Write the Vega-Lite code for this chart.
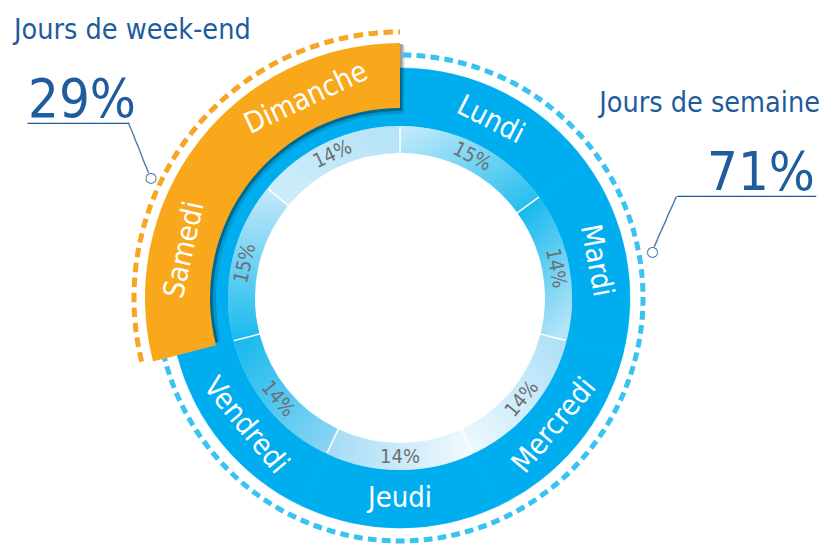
{
  "$schema": "https://vega.github.io/schema/vega-lite/v6.json",
  "width": 800,
  "height": 494,
  "autosize": {"type": "none"},
  "padding": {"left": 0, "top": 51, "right": 25, "bottom": 0},
  "background": "white",
  "config": {"view": {"stroke": null}, "font": "Noto Sans Condensed, DejaVu Sans Condensed, Roboto, sans-serif"},
  "data": {
    "values": [
      {"jour": "Lundi", "groupe": "Jours de semaine", "part": 0.15, "rang": 1},
      {"jour": "Mardi", "groupe": "Jours de semaine", "part": 0.14, "rang": 2},
      {"jour": "Mercredi", "groupe": "Jours de semaine", "part": 0.14, "rang": 3},
      {"jour": "Jeudi", "groupe": "Jours de semaine", "part": 0.14, "rang": 4},
      {"jour": "Vendredi", "groupe": "Jours de semaine", "part": 0.14, "rang": 5},
      {"jour": "Samedi", "groupe": "Jours de week-end", "part": 0.15, "rang": 6},
      {"jour": "Dimanche", "groupe": "Jours de week-end", "part": 0.14, "rang": 7}
    ]
  },
  "layer": [
    {
      "mark": {"type": "arc", "radius": 230, "radius2": 172, "fill": "#00aeef", "stroke": "#00aeef", "strokeWidth": 0.6},
      "encoding": {
        "theta": {"field": "part", "type": "quantitative", "stack": true, "scale": {"domain": [0, 1]}},
        "order": {"field": "rang", "type": "quantitative"},
        "detail": {"field": "jour"}
      }
    },
    {
      "transform": [{"aggregate": [{"op": "sum", "field": "part", "as": "part"}, {"op": "min", "field": "rang", "as": "rang"}], "groupby": ["groupe"]}],
      "mark": {"type": "arc", "radius": 253, "radius2": 184, "thetaOffset": 0.02, "theta2Offset": -0.024, "fill": "#000000"},
      "encoding": {
        "theta": {"field": "part", "type": "quantitative", "stack": true, "scale": {"domain": [0, 1]}},
        "order": {"field": "rang", "type": "quantitative"},
        "detail": {"field": "groupe"},
        "fillOpacity": {"condition": {"test": "datum.groupe === 'Jours de week-end'", "value": 0.13}, "value": 0}
      }
    },
    {
      "transform": [{"aggregate": [{"op": "sum", "field": "part", "as": "part"}, {"op": "min", "field": "rang", "as": "rang"}], "groupby": ["groupe"]}],
      "mark": {"type": "arc", "radius": 254, "radius2": 187, "thetaOffset": 0.011, "theta2Offset": -0.013, "fill": "#000000"},
      "encoding": {
        "theta": {"field": "part", "type": "quantitative", "stack": true, "scale": {"domain": [0, 1]}},
        "order": {"field": "rang", "type": "quantitative"},
        "detail": {"field": "groupe"},
        "fillOpacity": {"condition": {"test": "datum.groupe === 'Jours de week-end'", "value": 0.3}, "value": 0}
      }
    },
    {
      "transform": [{"aggregate": [{"op": "sum", "field": "part", "as": "part"}, {"op": "min", "field": "rang", "as": "rang"}], "groupby": ["groupe"]}],
      "mark": {"type": "arc", "radius": 255, "radius2": 190, "fill": "#f9a81b"},
      "encoding": {
        "theta": {"field": "part", "type": "quantitative", "stack": true, "scale": {"domain": [0, 1]}},
        "order": {"field": "rang", "type": "quantitative"},
        "detail": {"field": "groupe"},
        "fillOpacity": {"condition": {"test": "datum.groupe === 'Jours de week-end'", "value": 1}, "value": 0}
      }
    },
    {
      "mark": {"type": "arc", "radius": 172, "radius2": 145, "padAngle": 0.0068},
      "encoding": {
        "theta": {"field": "part", "type": "quantitative", "stack": true, "scale": {"domain": [0, 1]}},
        "order": {"field": "rang", "type": "quantitative"},
        "detail": {"field": "jour"},
        "fill": {
          "condition": [
            {"test": "datum.jour === 'Lundi'", "value": {"gradient": "linear", "x1": 0, "y1": 0, "x2": 1, "y2": 1, "stops": [{"offset": 0, "color": "#c9ebfa"}, {"offset": 1, "color": "#18bbef"}]}},
            {"test": "datum.jour === 'Mardi'", "value": {"gradient": "linear", "x1": 0.3, "y1": 0, "x2": 0.7, "y2": 1, "stops": [{"offset": 0, "color": "#14b9ee"}, {"offset": 1, "color": "#b6e4f8"}]}},
            {"test": "datum.jour === 'Mercredi'", "value": {"gradient": "linear", "x1": 1, "y1": 0, "x2": 0, "y2": 1, "stops": [{"offset": 0, "color": "#a9def6"}, {"offset": 1, "color": "#f2fafe"}]}},
            {"test": "datum.jour === 'Jeudi'", "value": {"gradient": "linear", "x1": 1, "y1": 0.5, "x2": 0, "y2": 0.5, "stops": [{"offset": 0, "color": "#f2fafe"}, {"offset": 1, "color": "#a4dbf5"}]}},
            {"test": "datum.jour === 'Vendredi'", "value": {"gradient": "linear", "x1": 1, "y1": 1, "x2": 0, "y2": 0, "stops": [{"offset": 0, "color": "#93d6f4"}, {"offset": 1, "color": "#12b9ee"}]}},
            {"test": "datum.jour === 'Samedi'", "value": {"gradient": "linear", "x1": 0.5, "y1": 1, "x2": 0.5, "y2": 0, "stops": [{"offset": 0, "color": "#16baee"}, {"offset": 1, "color": "#c6e9f9"}]}}
          ],
          "value": {"gradient": "linear", "x1": 0, "y1": 1, "x2": 1, "y2": 0, "stops": [{"offset": 0, "color": "#d0edfa"}, {"offset": 1, "color": "#b5e3f7"}]}
        }
      }
    },
    {
      "transform": [{"aggregate": [{"op": "sum", "field": "part", "as": "part"}, {"op": "min", "field": "rang", "as": "rang"}], "groupby": ["groupe"]}],
      "mark": {"type": "arc", "radius": 243, "radius2": 243, "filled": false, "stroke": "#38c3f1", "strokeWidth": 5, "strokeDash": [8, 6], "strokeDashOffset": 4.96, "strokeCap": "butt"},
      "encoding": {
        "theta": {"field": "part", "type": "quantitative", "stack": true, "scale": {"domain": [0, 1]}},
        "order": {"field": "rang", "type": "quantitative"},
        "detail": {"field": "groupe"},
        "strokeOpacity": {"condition": {"test": "datum.groupe === 'Jours de semaine'", "value": 1}, "value": 0}
      }
    },
    {
      "transform": [{"aggregate": [{"op": "sum", "field": "part", "as": "part"}, {"op": "min", "field": "rang", "as": "rang"}], "groupby": ["groupe"]}],
      "mark": {"type": "arc", "radius": 266, "radius2": 266, "filled": false, "stroke": "#f6a623", "strokeWidth": 5, "strokeDash": [9, 6], "strokeDashOffset": 7.315, "strokeCap": "butt"},
      "encoding": {
        "theta": {"field": "part", "type": "quantitative", "stack": true, "scale": {"domain": [0, 1]}},
        "order": {"field": "rang", "type": "quantitative"},
        "detail": {"field": "groupe"},
        "strokeOpacity": {"condition": {"test": "datum.groupe === 'Jours de week-end'", "value": 1}, "value": 0}
      }
    },
    {
      "mark": {"type": "text", "radius": 200, "fontSize": 29, "fill": "white", "align": "center", "baseline": "middle", "angle": {"expr": "((datum.part_start + datum.part_end) * 180 + 90) % 180 - 90"}},
      "encoding": {
        "theta": {"field": "part", "type": "quantitative", "stack": true, "scale": {"domain": [0, 1]}},
        "order": {"field": "rang", "type": "quantitative"},
        "detail": {"field": "jour"},
        "text": {"condition": {"test": "datum.groupe === 'Jours de semaine'", "field": "jour", "type": "nominal"}, "value": ""}
      }
    },
    {
      "mark": {"type": "text", "radius": 221, "fontSize": 29, "fill": "white", "align": "center", "baseline": "middle", "angle": {"expr": "((datum.part_start + datum.part_end) * 180 + 90) % 180 - 90"}},
      "encoding": {
        "theta": {"field": "part", "type": "quantitative", "stack": true, "scale": {"domain": [0, 1]}},
        "order": {"field": "rang", "type": "quantitative"},
        "detail": {"field": "jour"},
        "text": {"condition": {"test": "datum.groupe === 'Jours de week-end'", "field": "jour", "type": "nominal"}, "value": ""}
      }
    },
    {
      "mark": {"type": "text", "radius": 158.5, "fontSize": 20, "fill": "#6d6e71", "align": "center", "baseline": "middle", "angle": {"expr": "((datum.part_start + datum.part_end) * 180 + 90) % 180 - 90"}},
      "encoding": {
        "theta": {"field": "part", "type": "quantitative", "stack": true, "scale": {"domain": [0, 1]}},
        "order": {"field": "rang", "type": "quantitative"},
        "detail": {"field": "jour"},
        "text": {"field": "part", "type": "quantitative", "format": ".0%"}
      }
    },
    {
      "transform": [{"aggregate": [{"op": "sum", "field": "part", "as": "part"}, {"op": "min", "field": "rang", "as": "rang"}], "groupby": ["groupe"]}],
      "mark": {"type": "text", "radius": 464.84, "thetaOffset": -0.0688, "fontSize": 28.5, "fill": "#1f5c9c", "align": "left", "baseline": "alphabetic"},
      "encoding": {
        "theta": {"field": "part", "type": "quantitative", "stack": true, "scale": {"domain": [0, 1]}},
        "order": {"field": "rang", "type": "quantitative"},
        "detail": {"field": "groupe"},
        "text": {"condition": {"test": "datum.groupe === 'Jours de week-end'", "field": "groupe", "type": "nominal"}, "value": ""}
      }
    },
    {
      "transform": [{"aggregate": [{"op": "sum", "field": "part", "as": "part"}, {"op": "min", "field": "rang", "as": "rang"}], "groupby": ["groupe"]}],
      "mark": {"type": "text", "radius": 413.7, "thetaOffset": -0.2068, "fontSize": 54, "fill": "#1f5c9c", "align": "left", "baseline": "alphabetic"},
      "encoding": {
        "theta": {"field": "part", "type": "quantitative", "stack": true, "scale": {"domain": [0, 1]}},
        "order": {"field": "rang", "type": "quantitative"},
        "detail": {"field": "groupe"},
        "text": {"condition": {"test": "datum.groupe === 'Jours de week-end'", "field": "part", "type": "quantitative", "format": ".0%"}, "value": ""}
      }
    },
    {
      "transform": [{"aggregate": [{"op": "sum", "field": "part", "as": "part"}, {"op": "min", "field": "rang", "as": "rang"}], "groupby": ["groupe"]}],
      "mark": {"type": "text", "radius": 459.34, "thetaOffset": -1.0767, "fontSize": 28.5, "fill": "#1f5c9c", "align": "right", "baseline": "alphabetic"},
      "encoding": {
        "theta": {"field": "part", "type": "quantitative", "stack": true, "scale": {"domain": [0, 1]}},
        "order": {"field": "rang", "type": "quantitative"},
        "detail": {"field": "groupe"},
        "text": {"condition": {"test": "datum.groupe === 'Jours de semaine'", "field": "groupe", "type": "nominal"}, "value": ""}
      }
    },
    {
      "transform": [{"aggregate": [{"op": "sum", "field": "part", "as": "part"}, {"op": "min", "field": "rang", "as": "rang"}], "groupby": ["groupe"]}],
      "mark": {"type": "text", "radius": 428.83, "thetaOffset": -0.9144, "fontSize": 54, "fill": "#1f5c9c", "align": "right", "baseline": "alphabetic"},
      "encoding": {
        "theta": {"field": "part", "type": "quantitative", "stack": true, "scale": {"domain": [0, 1]}},
        "order": {"field": "rang", "type": "quantitative"},
        "detail": {"field": "groupe"},
        "text": {"condition": {"test": "datum.groupe === 'Jours de semaine'", "field": "part", "type": "quantitative", "format": ".0%"}, "value": ""}
      }
    },
    {
      "transform": [{"aggregate": [{"op": "sum", "field": "part", "as": "part"}, {"op": "min", "field": "rang", "as": "rang"}], "groupby": ["groupe"]}],
      "mark": {"type": "text", "radius": 366.15, "thetaOffset": -0.1635, "font": "DejaVu Sans Mono", "fontSize": 14, "fill": "#1f5c9c", "align": "center", "baseline": "middle"},
      "encoding": {
        "theta": {"field": "part", "type": "quantitative", "stack": true, "scale": {"domain": [0, 1]}},
        "order": {"field": "rang", "type": "quantitative"},
        "detail": {"field": "groupe"},
        "text": {"condition": {"test": "datum.groupe === 'Jours de week-end'", "value": "────────────"}, "value": ""}
      }
    },
    {
      "transform": [{"aggregate": [{"op": "sum", "field": "part", "as": "part"}, {"op": "min", "field": "rang", "as": "rang"}], "groupby": ["groupe"]}],
      "mark": {"type": "text", "radius": 301.9, "thetaOffset": -0.1396, "angle": 68.2, "font": "DejaVu Sans Mono", "fontSize": 12.8, "fill": "#1f5c9c", "align": "center", "baseline": "middle"},
      "encoding": {
        "theta": {"field": "part", "type": "quantitative", "stack": true, "scale": {"domain": [0, 1]}},
        "order": {"field": "rang", "type": "quantitative"},
        "detail": {"field": "groupe"},
        "text": {"condition": {"test": "datum.groupe === 'Jours de week-end'", "value": "───────"}, "value": ""}
      }
    },
    {
      "transform": [{"aggregate": [{"op": "sum", "field": "part", "as": "part"}, {"op": "min", "field": "rang", "as": "rang"}], "groupby": ["groupe"]}],
      "mark": {"type": "text", "radius": 276.3, "thetaOffset": -0.2117, "font": "DejaVu Sans", "fontSize": 14, "fill": "#1f5c9c", "align": "center", "baseline": "middle"},
      "encoding": {
        "theta": {"field": "part", "type": "quantitative", "stack": true, "scale": {"domain": [0, 1]}},
        "order": {"field": "rang", "type": "quantitative"},
        "detail": {"field": "groupe"},
        "text": {"condition": {"test": "datum.groupe === 'Jours de week-end'", "value": "○"}, "value": ""}
      }
    },
    {
      "transform": [{"aggregate": [{"op": "sum", "field": "part", "as": "part"}, {"op": "min", "field": "rang", "as": "rang"}], "groupby": ["groupe"]}],
      "mark": {"type": "text", "radius": 361.0, "thetaOffset": -0.9442, "font": "DejaVu Sans Mono", "fontSize": 14.4, "fill": "#1f5c9c", "align": "center", "baseline": "middle"},
      "encoding": {
        "theta": {"field": "part", "type": "quantitative", "stack": true, "scale": {"domain": [0, 1]}},
        "order": {"field": "rang", "type": "quantitative"},
        "detail": {"field": "groupe"},
        "text": {"condition": {"test": "datum.groupe === 'Jours de semaine'", "value": "────────────────"}, "value": ""}
      }
    },
    {
      "transform": [{"aggregate": [{"op": "sum", "field": "part", "as": "part"}, {"op": "min", "field": "rang", "as": "rang"}], "groupby": ["groupe"]}],
      "mark": {"type": "text", "radius": 276.3, "thetaOffset": -0.939, "angle": -66.2, "font": "DejaVu Sans Mono", "fontSize": 13, "fill": "#1f5c9c", "align": "center", "baseline": "middle"},
      "encoding": {
        "theta": {"field": "part", "type": "quantitative", "stack": true, "scale": {"domain": [0, 1]}},
        "order": {"field": "rang", "type": "quantitative"},
        "detail": {"field": "groupe"},
        "text": {"condition": {"test": "datum.groupe === 'Jours de semaine'", "value": "───────"}, "value": ""}
      }
    },
    {
      "transform": [{"aggregate": [{"op": "sum", "field": "part", "as": "part"}, {"op": "min", "field": "rang", "as": "rang"}], "groupby": ["groupe"]}],
      "mark": {"type": "text", "radius": 256.5, "thetaOffset": -0.8412, "font": "DejaVu Sans", "fontSize": 14, "fill": "#1f5c9c", "align": "center", "baseline": "middle"},
      "encoding": {
        "theta": {"field": "part", "type": "quantitative", "stack": true, "scale": {"domain": [0, 1]}},
        "order": {"field": "rang", "type": "quantitative"},
        "detail": {"field": "groupe"},
        "text": {"condition": {"test": "datum.groupe === 'Jours de semaine'", "value": "○"}, "value": ""}
      }
    }
  ]
}
